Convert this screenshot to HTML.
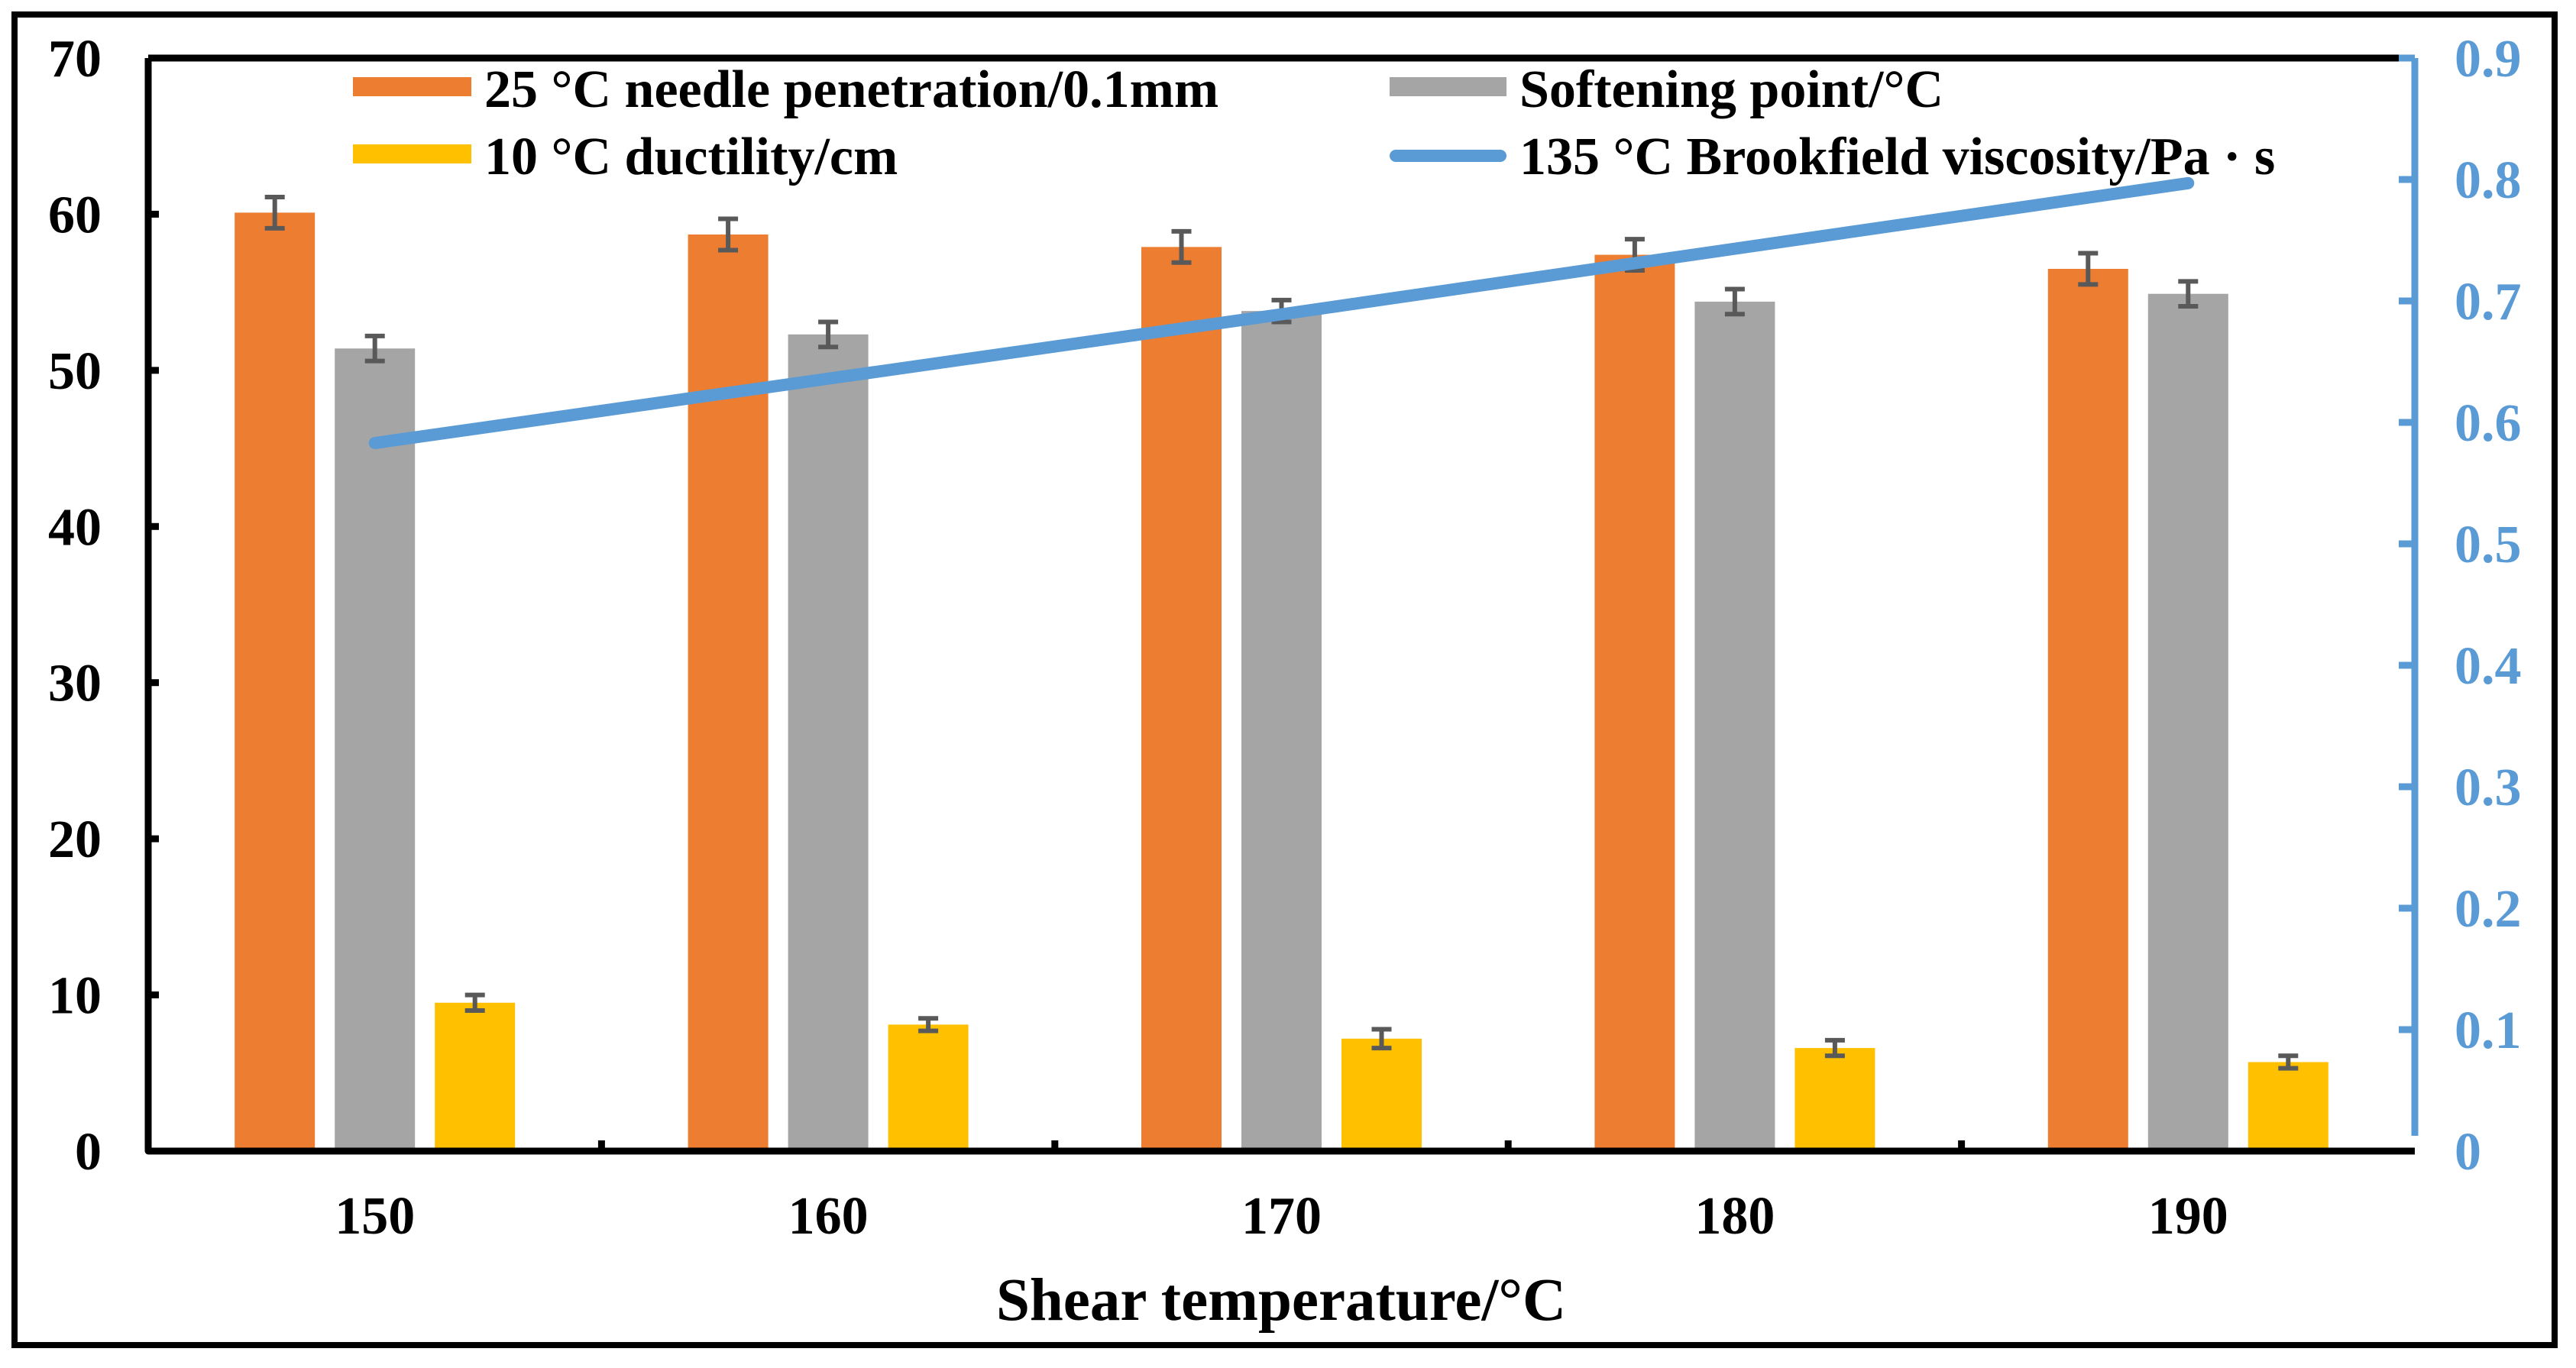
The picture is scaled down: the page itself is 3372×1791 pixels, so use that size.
<!DOCTYPE html>
<html><head><meta charset="utf-8"><style>
html,body{margin:0;padding:0;background:#fff}
svg text{font-family:"Liberation Serif",serif;font-weight:bold}
</style></head><body>
<svg id="chart" width="3372" height="1786" viewBox="0 0 3372 1786" xmlns="http://www.w3.org/2000/svg">
<rect x="19" y="19" width="3325" height="1742" fill="none" stroke="#000" stroke-width="8"/>
<g id="marks"></g>
<g id="legend">
 <rect x="462" y="101" width="155" height="25" fill="#ED7D31"/>
 <text x="634" y="140" font-size="70">25 °C needle penetration/0.1mm</text>
 <rect x="462" y="189" width="155" height="25" fill="#FFC000"/>
 <text x="634" y="228" font-size="70">10 °C ductility/cm</text>
 <rect x="1819" y="101" width="153" height="25" fill="#A5A5A5"/>
 <text x="1989" y="140" font-size="70">Softening point/°C</text>
 <line x1="1827" y1="204" x2="1964" y2="204" stroke="#5B9BD5" stroke-width="16" stroke-linecap="round"/>
 <text x="1989" y="228" font-size="70">135 °C Brookfield viscosity/Pa · s</text>
</g>
<text x="1677" y="1728" font-size="79" text-anchor="middle">Shear temperature/°C</text>
</svg>
<script>
const categories = ["150","160","170","180","190"];
const penetration = [60.1, 58.7, 57.9, 57.4, 56.5];
const penetrationErr = [1.0, 1.0, 1.0, 1.0, 1.0];
const softening = [51.4, 52.3, 53.8, 54.4, 54.9];
const softeningErr = [0.8, 0.8, 0.7, 0.8, 0.8];
const ductility = [9.5, 8.1, 7.2, 6.6, 5.7];
const ductilityErr = [0.5, 0.4, 0.6, 0.5, 0.4];
const viscosity = [0.583, 0.636, 0.689, 0.743, 0.797];
const leftTicks = [0,10,20,30,40,50,60,70];
const rightTicks = ["0","0.1","0.2","0.3","0.4","0.5","0.6","0.7","0.8","0.9"];

const X0=194, X1=3161, YT=76, YB=1507;
const NS="http://www.w3.org/2000/svg";
const g=document.getElementById('marks');
const band=(X1-X0)/categories.length;
const xc=i=>X0+band*(i+0.5);
const yL=v=>YB-(v/70)*(YB-YT);
const yR=v=>YB-(v/0.9)*(YB-YT);
function mk(tag,attrs){const e=document.createElementNS(NS,tag);for(const k in attrs)e.setAttribute(k,attrs[k]);g.appendChild(e);return e;}
const BW=105, OFF=131;
const series=[[penetration,penetrationErr,"#ED7D31","penetration"],[softening,softeningErr,"#A5A5A5","softening"],[ductility,ductilityErr,"#FFC000","ductility"]];
series.forEach((s,si)=>{
  s[0].forEach((v,i)=>{
    const cx=xc(i)+(si-1)*OFF;
    const r=mk('rect',{x:cx-BW/2,y:yL(v),width:BW,height:YB-yL(v),fill:s[2]});
    
    
    const e=s[1][i];
    const p=mk('path',{d:`M${cx},${yL(v+e)}V${yL(v-e)}M${cx-13},${yL(v+e)}H${cx+13}M${cx-13},${yL(v-e)}H${cx+13}`,stroke:"#595959","stroke-width":6,fill:"none"});
    
    
  });
});
const ln=mk('polyline',{points:viscosity.map((v,i)=>xc(i)+','+yR(v)).join(' '),fill:'none',stroke:'#5B9BD5','stroke-width':16,'stroke-linecap':'round','stroke-linejoin':'round'});


const la=mk('path',{d:`M${X0},${YT}V${YB}H${X1}`,stroke:'#000','stroke-width':9,fill:'none','stroke-linejoin':'round'});


const ta=mk('path',{d:`M${X0},${YT}H${X1-20}`,stroke:'#000','stroke-width':9,fill:'none'});


const ra=mk('path',{d:`M${X1},${YT}V${YB-20}`,stroke:'#5B9BD5','stroke-width':9,fill:'none'});


leftTicks.forEach(t=>{
  const y=yL(t);
  if(t>0&&t<70){const k=mk('line',{x1:X0,y1:y,x2:X0+14,y2:y,stroke:'#000','stroke-width':9});
  
  }
  const tx=mk('text',{x:133,y:y+24,'font-size':70,'text-anchor':'end'});tx.textContent=t;
  
  
});
rightTicks.forEach(t=>{
  const y=yR(parseFloat(t));
  if(parseFloat(t)>0){const k=mk('line',{x1:X1-21,y1:y,x2:X1,y2:y,stroke:'#5B9BD5','stroke-width':9});
  
  }
  const tx=mk('text',{x:3213,y:y+24,'font-size':70,fill:'#5B9BD5'});tx.textContent=t;
  
  
});
categories.forEach((c,i)=>{
  if(i>0){const k=mk('line',{x1:X0+band*i,y1:YB,x2:X0+band*i,y2:YB-14,stroke:'#000','stroke-width':9});
  
  }
  const tx=mk('text',{x:xc(i),y:1615,'font-size':70,'text-anchor':'middle'});tx.textContent=c;
  
  
});
</script>
</body></html>
